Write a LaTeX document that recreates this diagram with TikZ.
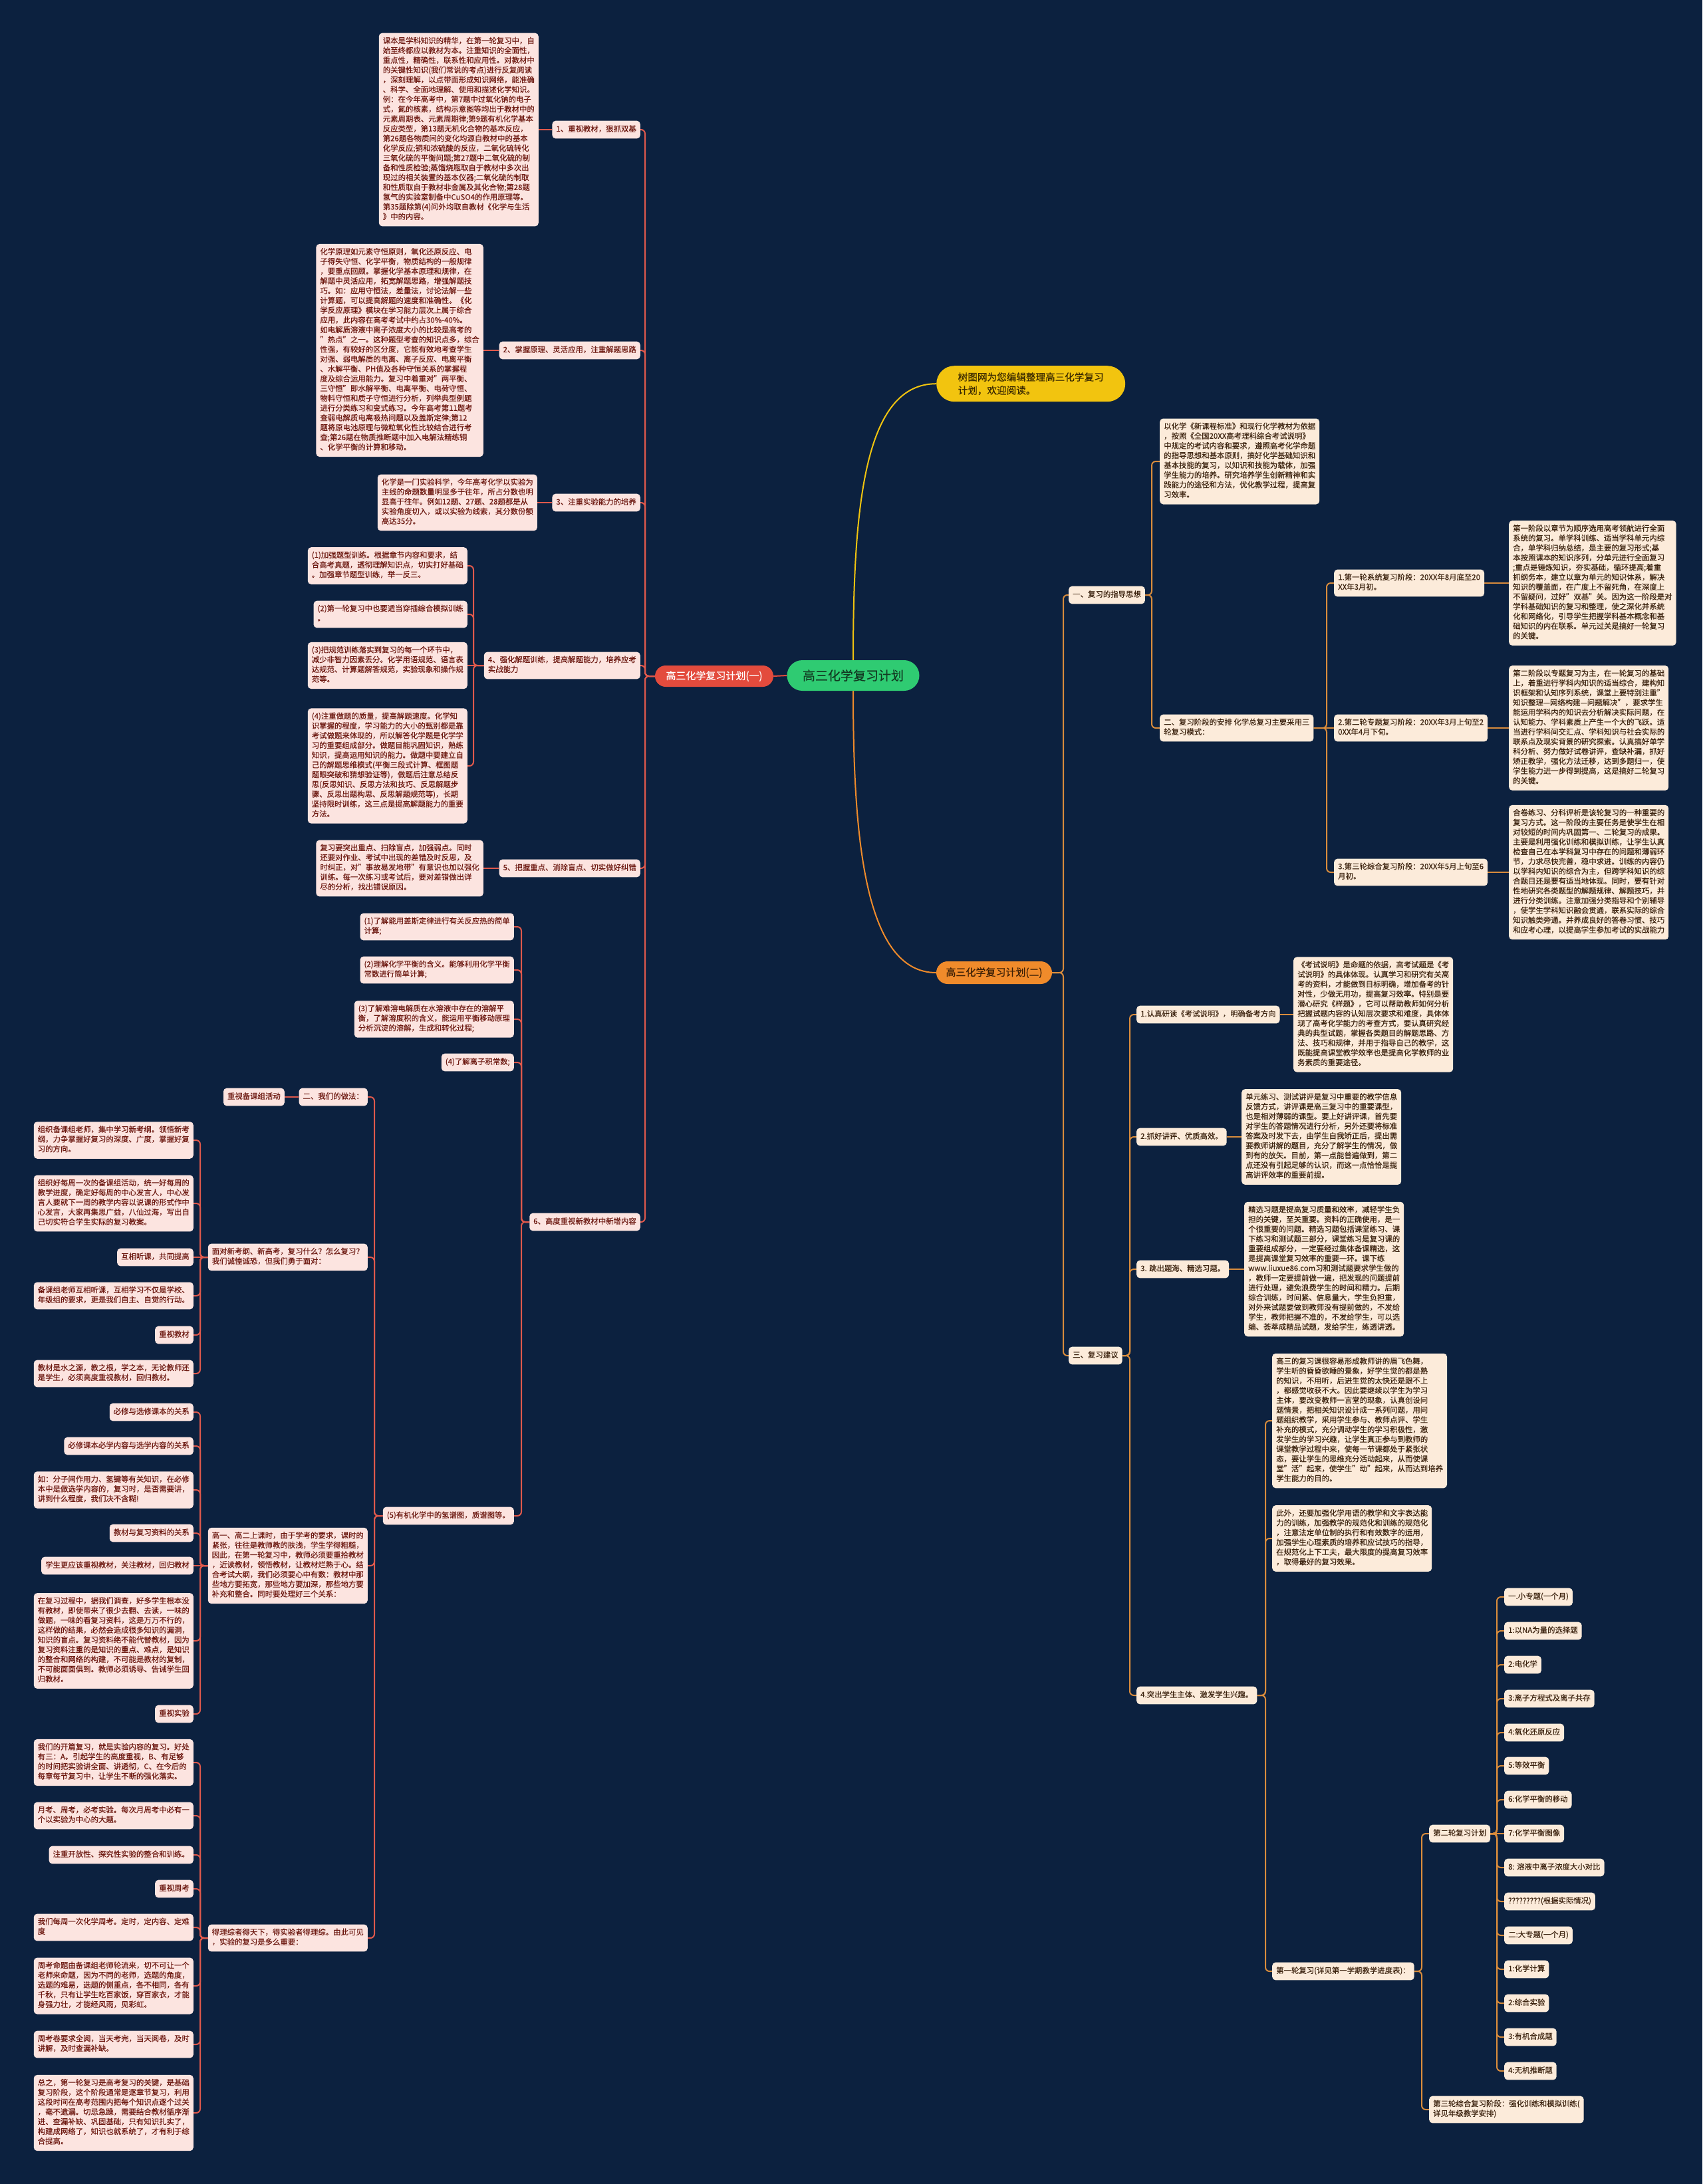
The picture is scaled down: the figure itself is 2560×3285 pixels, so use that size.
\documentclass[tikz,border=0pt]{standalone}
\usepackage{fontspec}
\setmainfont{Noto Sans CJK SC}[FakeBold=0.4]
\usetikzlibrary{calc}
\pgfdeclarelayer{bgl}
\pgfdeclarelayer{back}
\pgfsetlayers{bgl,back,main}
\definecolor{bg}{HTML}{0C213F}
\definecolor{lfill}{HTML}{FCE4E0}
\definecolor{ltext}{HTML}{6E1A12}
\definecolor{lline}{HTML}{E0594C}
\definecolor{rfill}{HTML}{FCEBDA}
\definecolor{rtext}{HTML}{3D2410}
\definecolor{rline}{HTML}{D98C3C}
\definecolor{cgreen}{HTML}{2FCB72}
\definecolor{cdark}{HTML}{123A22}
\definecolor{lred}{HTML}{E34B3D}
\definecolor{rorange}{HTML}{F08B2B}
\definecolor{rdark}{HTML}{3A1E05}
\definecolor{yel}{HTML}{F2C40F}
\definecolor{ydark}{HTML}{3B2A00}
\newcommand\myfs{\fontsize{11.4pt}{14.7pt}\selectfont}
\tikzset{
  base/.style={align=left, inner xsep=6pt, inner ysep=6pt, rounded corners=5pt, font=\myfs,
    execute at begin node=\strut, execute at end node=\strut},
  lbox/.style={base, fill=lfill, text=ltext, anchor=east},
  rbox/.style={base, fill=rfill, text=rtext, anchor=west},
  lconn/.style={draw=lline, line width=2pt, rounded corners=6pt},
  rconn/.style={draw=rline, line width=2pt, rounded corners=6pt},
}
\newcommand\elbL[3]{\draw[lconn] (#1.west) -- (#1.west -| #3) |- (#2.east);}
\newcommand\elbR[3]{\draw[rconn] (#1.east) -- (#1.east -| #3) |- (#2.west);}
\newcommand\strL[2]{\draw[lconn] (#1.west) -- (#2.east);}
\newcommand\strR[2]{\draw[rconn] (#1.east) -- (#2.west);}
\begin{document}
\begin{tikzpicture}[x=1pt,y=-1pt]
\useasboundingbox (0,0) rectangle (2560,3285);
\begin{pgfonlayer}{bgl}
\fill[bg] (0,0) rectangle (2560,3285);
\end{pgfonlayer}

\coordinate (tL) at (970,0);
\coordinate (tD) at (712,0);
\coordinate (tF) at (784,0);
\coordinate (tF8) at (563,0);
\coordinate (tG) at (301,0);
\coordinate (tR) at (1599,0);
\coordinate (tA1) at (1732,0);
\coordinate (tA2) at (1995,0);
\coordinate (tA3) at (1699,0);
\coordinate (tB4) at (1903,0);
\coordinate (tM1) at (2138,0);
\coordinate (tM2) at (2251,0);

% ---------- main nodes ----------
\node[fill=cgreen, text=cdark, font=\fontsize{19pt}{22pt}\selectfont, rounded corners=23pt, minimum width=199pt, minimum height=46pt, inner sep=0pt] (C) at (1283,1016) {高三化学复习计划};
\node[fill=lred, text=white, font=\fontsize{15pt}{18pt}\selectfont, rounded corners=16pt, minimum width=178pt, minimum height=32pt, inner sep=0pt] (L0) at (1074,1017) {高三化学复习计划(一)};
\node[fill=rorange, text=rdark, font=\fontsize{15pt}{18pt}\selectfont, rounded corners=17pt, minimum width=174pt, minimum height=34pt, inner sep=0pt] (R0) at (1495,1463) {高三化学复习计划(二)};
\node[fill=yel, text=ydark, font=\fontsize{14.6pt}{20pt}\selectfont, align=left, rounded corners=27pt, minimum width=284pt, minimum height=54pt, inner sep=0pt, anchor=north west] (Y) at (1408,550) {树图网为您编辑整理高三化学复习\\计划，欢迎阅读。};

% ---------- left labels ----------
\node[lbox] (L1) at (963,195) {1、重视教材，狠抓双基};
\node[lbox] (L2) at (963,527) {2、掌握原理、灵活应用，注重解题思路};
\node[lbox] (L3) at (963,756) {3、注重实验能力的培养};
\node[lbox] (L4) at (963,1001) {4、强化解题训练，提高解题能力，培养应考\\实战能力};
\node[lbox] (L5) at (963,1306) {5、把握重点、消除盲点、切实做好纠错};
\node[lbox] (L6) at (963,1838) {6、高度重视新教材中新增内容};

\node[lbox] (A) at (810,195) {课本是学科知识的精华，在第一轮复习中，自\\始至终都应以教材为本。注重知识的全面性，\\重点性，精确性，联系性和应用性。对教材中\\的关键性知识(我们常说的考点)进行反复阅读\\，深刻理解，以点带面形成知识网络，能准确\\、科学、全面地理解、使用和描述化学知识。\\例：在今年高考中，第7题中过氧化钠的电子\\式，氮的核素，结构示意图等均出于教材中的\\元素周期表、元素周期律;第9题有机化学基本\\反应类型，第13题无机化合物的基本反应，\\第26题各物质间的变化均源自教材中的基本\\化学反应;铜和浓硫酸的反应，二氧化硫转化\\三氧化硫的平衡问题;第27题中二氧化硫的制\\备和性质检验;蒸馏烧瓶取自于教材中多次出\\现过的相关装置的基本仪器;二氧化硫的制取\\和性质取自于教材非金属及其化合物;第28题\\氢气的实验室制备中CuSO4的作用原理等。\\第35题除第(4)问外均取自教材《化学与生活\\》中的内容。};
\node[lbox] (B) at (727,527) {化学原理如元素守恒原则，氧化还原反应、电\\子得失守恒、化学平衡，物质结构的一般规律\\，要重点回顾。掌握化学基本原理和规律，在\\解题中灵活应用，拓宽解题思路，增强解题技\\巧。如：应用守恒法，差量法，讨论法解一些\\计算题，可以提高解题的速度和准确性。《化\\学反应原理》模块在学习能力层次上属于综合\\应用，此内容在高考考试中约占30\%-40\%。\\如电解质溶液中离子浓度大小的比较是高考的\\"热点"之一。这种题型考查的知识点多，综合\\性强，有较好的区分度，它能有效地考查学生\\对强、弱电解质的电离、离子反应、电离平衡\\、水解平衡、PH值及各种守恒关系的掌握程\\度及综合运用能力。复习中着重对"两平衡、\\三守恒"即水解平衡、电离平衡、电荷守恒、\\物料守恒和质子守恒进行分析，列举典型例题\\进行分类练习和变式练习。今年高考第11题考\\查弱电解质电离吸热问题以及盖斯定律;第12\\题将原电池原理与微粒氧化性比较结合进行考\\查;第26题在物质推断题中加入电解法精练铜\\、化学平衡的计算和移动。};
\node[lbox] (Cx) at (808,756) {化学是一门实验科学，今年高考化学以实验为\\主线的命题数量明显多于往年，所占分数也明\\显高于往年。例如12题、27题、28题都是从\\实验角度切入，或以实验为线索，其分数份额\\高达35分。};
\node[lbox] (D1) at (703,851) {(1)加强题型训练。根据章节内容和要求，结\\合高考真题，透彻理解知识点，切实打好基础\\。加强章节题型训练，举一反三。};
\node[lbox] (D2) at (703,924) {(2)第一轮复习中也要适当穿插综合模拟训练\\。};
\node[lbox] (D3) at (703,1001) {(3)把规范训练落实到复习的每一个环节中，\\减少非智力因素丢分。化学用语规范、语言表\\达规范、计算题解答规范，实验现象和操作规\\范等。};
\node[lbox] (D4) at (703,1152) {(4)注重做题的质量，提高解题速度。化学知\\识掌握的程度，学习能力的大小的甄别都是靠\\考试做题来体现的，所以解答化学题是化学学\\习的重要组成部分。做题目能巩固知识，熟练\\知识，提高运用知识的能力。做题中要建立自\\己的解题思维模式(平衡三段式计算、框图题\\题眼突破和猜想验证等)，做题后注意总结反\\思(反思知识、反思方法和技巧、反思解题步\\骤、反思出题构思、反思解题规范等)，长期\\坚持限时训练，这三点是提高解题能力的重要\\方法。};
\node[lbox] (E) at (727,1306) {复习要突出重点、扫除盲点，加强弱点。同时\\还要对作业、考试中出现的差错及时反思，及\\时纠正，对"事故易发地带"有意识也加以强化\\训练。每一次练习或考试后，要对差错做出详\\尽的分析，找出错误原因。};

\node[lbox] (F1) at (773,1394) {(1)了解能用盖斯定律进行有关反应热的简单\\计算;};
\node[lbox] (F2) at (773,1459) {(2)理解化学平衡的含义。能够利用化学平衡\\常数进行简单计算;};
\node[lbox] (F3) at (773,1533) {(3)了解难溶电解质在水溶液中存在的溶解平\\衡，了解溶度积的含义，能运用平衡移动原理\\分析沉淀的溶解，生成和转化过程;};
\node[lbox] (F4) at (773,1598) {(4)了解离子积常数;};
\node[lbox] (F8) at (773,2280) {(5)有机化学中的氢谱图，质谱图等。};

\node[lbox] (F5) at (553,1650) {二、我们的做法：};
\node[lbox] (F5a) at (428,1650) {重视备课组活动};
\node[lbox] (F6) at (553,1891) {面对新考纲、新高考，复习什么？怎么复习？\\我们诚惶诚恐，但我们勇于面对：};
\node[lbox] (F7) at (553,2355) {高一、高二上课时，由于学考的要求，课时的\\紧张，往往是教师教的肤浅，学生学得粗糙，\\因此，在第一轮复习中，教师必须要重拾教材\\，近读教材，领悟教材，让教材烂熟于心。结\\合考试大纲，我们必须要心中有数：教材中那\\些地方要拓宽，那些地方要加深，那些地方要\\补充和整合。同时要处理好三个关系：};
\node[lbox] (F9) at (553,2915) {得理综者得天下，得实验者得理综。由此可见\\，实验的复习是多么重要：};

\node[lbox] (G1) at (291,1715) {组织备课组老师，集中学习新考纲。领悟新考\\纲，力争掌握好复习的深度、广度，掌握好复\\习的方向。};
\node[lbox] (G2) at (291,1810) {组织好每周一次的备课组活动，统一好每周的\\教学进度，确定好每周的中心发言人，中心发\\言人要就下一周的教学内容以说课的形式作中\\心发言，大家再集思广益，八仙过海，写出自\\己切实符合学生实际的复习教案。};
\node[lbox] (G3) at (291,1891) {互相听课，共同提高};
\node[lbox] (G4) at (291,1949) {备课组老师互相听课，互相学习不仅是学校、\\年级组的要求，更是我们自主、自觉的行动。};
\node[lbox] (G5) at (291,2008) {重视教材};
\node[lbox] (G6) at (291,2066) {教材是水之源，教之根，学之本，无论教师还\\是学生，必须高度重视教材，回归教材。};

\node[lbox] (H1) at (291,2124) {必修与选修课本的关系};
\node[lbox] (H2) at (291,2175) {必修课本必学内容与选学内容的关系};
\node[lbox] (H3) at (291,2241) {如：分子间作用力、氢键等有关知识，在必修\\本中是做选学内容的，复习时，是否需要讲，\\讲到什么程度，我们决不含糊!};
\node[lbox] (H4) at (291,2306) {教材与复习资料的关系};
\node[lbox] (H5) at (291,2355) {学生更应该重视教材，关注教材，回归教材};
\node[lbox] (H6) at (291,2468) {在复习过程中，据我们调查，好多学生根本没\\有教材，即使带来了很少去翻、去读，一味的\\做题，一味的看复习资料，这是万万不行的，\\这样做的结果，必然会造成很多知识的漏洞，\\知识的盲点。复习资料绝不能代替教材，因为\\复习资料注重的是知识的重点、难点，是知识\\的整合和网络的构建，不可能是教材的复制，\\不可能面面俱到。教师必须诱导、告诫学生回\\归教材。};
\node[lbox] (H7) at (291,2578) {重视实验};

\node[lbox] (I1) at (291,2651) {我们的开篇复习，就是实验内容的复习。好处\\有三：A。引起学生的高度重视，B、有足够\\的时间把实验讲全面、讲透彻，C、在今后的\\每章每节复习中，让学生不断的强化落实。};
\node[lbox] (I2) at (291,2731) {月考、周考，必考实验。每次月周考中必有一\\个以实验为中心的大题。};
\node[lbox] (I3) at (291,2790) {注重开放性、探究性实验的整合和训练。};
\node[lbox] (I4) at (291,2841) {重视周考};
\node[lbox] (I5) at (291,2899) {我们每周一次化学周考。定时，定内容、定难\\度};
\node[lbox] (I6) at (291,2987) {周考命题由备课组老师轮流来，切不可让一个\\老师来命题，因为不同的老师，选题的角度，\\选题的难易，选题的侧重点，各不相同，各有\\千秋，只有让学生吃百家饭，穿百家衣，才能\\身强力壮，才能经风雨，见彩虹。};
\node[lbox] (I7) at (291,3075) {周考卷要求全阅，当天考完，当天阅卷，及时\\讲解，及时查漏补缺。};
\node[lbox] (I8) at (291,3178) {总之，第一轮复习是高考复习的关键，是基础\\复习阶段，这个阶段通常是逐章节复习，利用\\这段时间在高考范围内把每个知识点逐个过关\\，毫不遗漏。切忌急躁，需要结合教材循序渐\\进、查漏补缺、巩固基础，只有知识扎实了，\\构建成网络了，知识也就系统了，才有利于综\\合提高。};

% ---------- right side ----------
\node[rbox] (A1) at (1607,895) {一、复习的指导思想};
\node[rbox] (A3) at (1607,2039) {三、复习建议};
\node[rbox] (J) at (1744,694) {以化学《新课程标准》和现行化学教材为依据\\，按照《全国20XX高考理科综合考试说明》\\中规定的考试内容和要求，遵照高考化学命题\\的指导思想和基本原则，搞好化学基础知识和\\基本技能的复习，以知识和技能为载体，加强\\学生能力的培养。研究培养学生创新精神和实\\践能力的途径和方法，优化教学过程，提高复\\习效率。};
\node[rbox] (A2) at (1744,1095) {二、复习阶段的安排 化学总复习主要采用三\\轮复习模式：};
\node[rbox] (K1) at (2006,877) {1.第一轮系统复习阶段：20XX年8月底至20\\XX年3月初。};
\node[rbox] (K2) at (2006,1095) {2.第二轮专题复习阶段：20XX年3月上旬至2\\0XX年4月下旬。};
\node[rbox] (K3) at (2006,1312) {3.第三轮综合复习阶段：20XX年5月上旬至6\\月初。};
\node[rbox] (KB1) at (2269,877) {第一阶段以章节为顺序选用高考领航进行全面\\系统的复习。单学科训练、适当学科单元内综\\合，单学科归纳总结，是主要的复习形式;基\\本按照课本的知识序列，分单元进行全面复习\\;重点是锤炼知识，夯实基础，循环提高;着重\\抓纲务本，建立以章为单元的知识体系，解决\\知识的覆盖面，在广度上不留死角，在深度上\\不留疑问，过好"双基"关。因为这一阶段是对\\学科基础知识的复习和整理，使之深化并系统\\化和网络化，引导学生把握学科基本概念和基\\础知识的内在联系。单元过关是搞好一轮复习\\的关键。};
\node[rbox] (KB2) at (2269,1095) {第二阶段以专题复习为主，在一轮复习的基础\\上，着重进行学科内知识的适当综合，建构知\\识框架和认知序列系统，课堂上要特别注重"\\知识整理—网络构建—问题解决"，要求学生\\能运用学科内的知识去分析解决实际问题，在\\认知能力、学科素质上产生一个大的飞跃。适\\当进行学科间交汇点、学科知识与社会实际的\\联系点及现实背景的研究探索。认真搞好单学\\科分析、努力做好试卷讲评，查缺补漏，抓好\\矫正教学，强化方法迁移，达到多题归一，使\\学生能力进一步得到提高，这是搞好二轮复习\\的关键。};
\node[rbox] (KB3) at (2269,1312) {合卷练习、分科评析是该轮复习的一种重要的\\复习方式。这一阶段的主要任务是使学生在相\\对较短的时间内巩固第一、二轮复习的成果。\\主要是利用强化训练和模拟训练，让学生认真\\检查自己在本学科复习中存在的问题和薄弱环\\节，力求尽快完善，稳中求进。训练的内容仍\\以学科内知识的综合为主，但跨学科知识的综\\合题目还是要有适当地体现。同时，要有针对\\性地研究各类题型的解题规律、解题技巧，并\\进行分类训练。注意加强分类指导和个别辅导\\，使学生学科知识融会贯通，联系实际的综合\\知识触类旁通。并养成良好的答卷习惯、技巧\\和应考心理，以提高学生参加考试的实战能力};

\node[rbox] (B1) at (1709,1526) {1.认真研读《考试说明》，明确备考方向};
\node[rbox] (B2) at (1709,1710) {2.抓好讲评、优质高效。};
\node[rbox] (B3) at (1709,1909) {3. 跳出题海、精选习题。};
\node[rbox] (B4) at (1709,2550) {4.突出学生主体、激发学生兴趣。};
\node[rbox] (BB1) at (1945,1526) {《考试说明》是命题的依据，高考试题是《考\\试说明》的具体体现。认真学习和研究有关高\\考的资料，才能做到目标明确，增加备考的针\\对性，少做无用功，提高复习效率。特别是要\\潜心研究《样题》，它可以帮助教师如何分析\\把握试题内容的认知层次要求和难度，具体体\\现了高考化学能力的考查方式，要认真研究经\\典的典型试题，掌握各类题目的解题思路、方\\法、技巧和规律，并用于指导自己的教学，这\\既能提高课堂教学效率也是提高化学教师的业\\务素质的重要途径。};
\node[rbox] (BB2) at (1867,1710) {单元练习、测试讲评是复习中重要的教学信息\\反馈方式，讲评课是高三复习中的重要课型，\\也是相对薄弱的课型。要上好讲评课，首先要\\对学生的答题情况进行分析，另外还要将标准\\答案及时发下去，由学生自我矫正后，提出需\\要教师讲解的题目，充分了解学生的情况，做\\到有的放矢。目前，第一点能普遍做到，第二\\点还没有引起足够的认识，而这一点恰恰是提\\高讲评效率的重要前提。};
\node[rbox] (BB3) at (1871,1909) {精选习题是提高复习质量和效率，减轻学生负\\担的关键，至关重要。资料的正确使用，是一\\个很重要的问题。精选习题包括课堂练习、课\\下练习和测试题三部分，课堂练习是复习课的\\重要组成部分，一定要经过集体备课精选，这\\是提高课堂复习效率的重要一环。课下练\\www.liuxue86.com习和测试题要求学生做的\\，教师一定要提前做一遍，把发现的问题提前\\进行处理，避免浪费学生的时间和精力。后期\\综合训练，时间紧、信息量大，学生负担重，\\对外来试题要做到教师没有提前做的，不发给\\学生，教师把握不准的，不发给学生，可以选\\编、荟萃成精品试题，发给学生，练透讲透。};
\node[rbox] (BB4) at (1913,2137) {高三的复习课很容易形成教师讲的眉飞色舞，\\学生听的昏昏欲睡的景象，好学生觉的都是熟\\的知识，不用听，后进生觉的太快还是跟不上\\，都感觉收获不大。因此要继续以学生为学习\\主体，要改变教师一言堂的现象，认真创设问\\题情景，把相关知识设计成一系列问题，用问\\题组织教学，采用学生参与、教师点评、学生\\补充的模式，充分调动学生的学习积极性，激\\发学生的学习兴趣，让学生真正参与到教师的\\课堂教学过程中来，使每一节课都处于紧张状\\态，要让学生的思维充分活动起来，从而使课\\堂"活"起来，使学生"动"起来，从而达到培养\\学生能力的目的。};
\node[rbox] (BB5) at (1913,2314) {此外，还要加强化学用语的教学和文字表达能\\力的训练，加强教学的规范化和训练的规范化\\，注意法定单位制的执行和有效数字的运用，\\加强学生心理素质的培养和应试技巧的指导，\\在规范化上下工夫，最大限度的提高复习效率\\，取得最好的复习效果。};
\node[rbox] (M1) at (1913,2965) {第一轮复习(详见第一学期教学进度表)：};
\node[rbox] (M2) at (2149,2758) {第二轮复习计划};
\node[rbox] (M3) at (2149,3173) {第三轮综合复习阶段：强化训练和模拟训练(\\详见年级教学安排)};

\node[rbox] (N1) at (2262,2402) {一.小专题(一个月)};
\node[rbox] (N2) at (2262,2453) {1:以NA为量的选择题};
\node[rbox] (N3) at (2262,2504) {2:电化学};
\node[rbox] (N4) at (2262,2555) {3:离子方程式及离子共存};
\node[rbox] (N5) at (2262,2606) {4:氧化还原反应};
\node[rbox] (N6) at (2262,2656) {5:等效平衡};
\node[rbox] (N7) at (2262,2707) {6:化学平衡的移动};
\node[rbox] (N8) at (2262,2758) {7:化学平衡图像};
\node[rbox] (N9) at (2262,2809) {8: 溶液中离子浓度大小对比};
\node[rbox] (N10) at (2262,2860) {?????????(根据实际情况)};
\node[rbox] (N11) at (2262,2911) {二:大专题(一个月)};
\node[rbox] (N12) at (2262,2962) {1:化学计算};
\node[rbox] (N13) at (2262,3013) {2:综合实验};
\node[rbox] (N14) at (2262,3064) {3:有机合成题};
\node[rbox] (N15) at (2262,3115) {4:无机推断题};

% ---------- connectors ----------
\begin{pgfonlayer}{back}
\draw[draw=yel, line width=2pt] (C.north) .. controls (1283,760) and (1300,577) .. (Y.west);
\draw[draw=rorange, line width=2pt] (C.south) .. controls (1283,1260) and (1300,1463) .. (R0.west);
\draw[draw=lred, line width=2pt] (C.west) -- (L0.east);

\foreach \c in {L1,L2,L3,L4,L5,L6} {\elbL{L0}{\c}{tL}}
\strL{L1}{A}
\strL{L2}{B}
\strL{L3}{Cx}
\strL{L5}{E}
\strL{L4}{D3}
\foreach \c in {D1,D2,D4} {\elbL{L4}{\c}{tD}}
\foreach \c in {F1,F2,F3,F4,F8} {\elbL{L6}{\c}{tF}}
\foreach \c in {F5,F6,F7,F9} {\elbL{F8}{\c}{tF8}}
\strL{F5}{F5a}
\strL{F6}{G3}
\foreach \c in {G1,G2,G4,G5,G6} {\elbL{F6}{\c}{tG}}
\strL{F7}{H5}
\foreach \c in {H1,H2,H3,H4,H6,H7} {\elbL{F7}{\c}{tG}}
\foreach \c in {I1,I2,I3,I4,I5,I6,I7,I8} {\elbL{F9}{\c}{tG}}

\foreach \c in {A1,A3} {\elbR{R0}{\c}{tR}}
\foreach \c in {J,A2} {\elbR{A1}{\c}{tA1}}
\strR{A2}{K2}
\foreach \c in {K1,K3} {\elbR{A2}{\c}{tA2}}
\strR{K1}{KB1}
\strR{K2}{KB2}
\strR{K3}{KB3}
\foreach \c in {B1,B2,B3,B4} {\elbR{A3}{\c}{tA3}}
\strR{B1}{BB1}
\strR{B2}{BB2}
\strR{B3}{BB3}
\foreach \c in {BB4,BB5,M1} {\elbR{B4}{\c}{tB4}}
\foreach \c in {M2,M3} {\elbR{M1}{\c}{tM1}}
\strR{M2}{N8}
\foreach \c in {N1,N2,N3,N4,N5,N6,N7,N9,N10,N11,N12,N13,N14,N15} {\elbR{M2}{\c}{tM2}}
\end{pgfonlayer}
\end{tikzpicture}
\end{document}
